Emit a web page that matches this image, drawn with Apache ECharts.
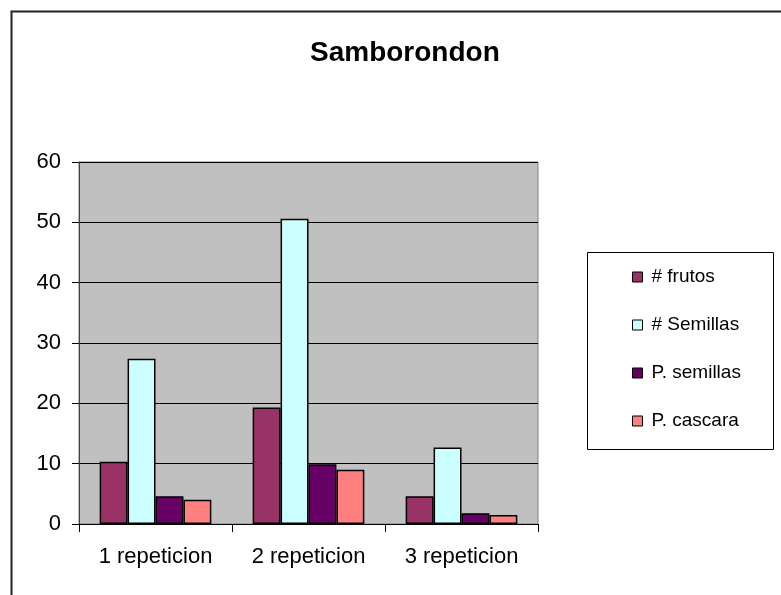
<!DOCTYPE html>
<html lang="es">
<head>
    <meta charset="UTF-8">
    <title>Samborondon</title>
    <script src="https://cdn.jsdelivr.net/npm/echarts@6/dist/echarts.min.js"></script>
    <style>
        html, body { margin: 0; padding: 0; background: #fff; }
        #chart { width: 781px; height: 595px; }
    </style>
</head>
<body>
    <div id="chart"></div>
    <script>
        // datos
        var categorias = ['1 repeticion', '2 repeticion', '3 repeticion'];
        var frutos = [10.3, 19.3, 4.6];
        var semillas = [27.4, 50.6, 12.7];
        var pSemillas = [4.6, 9.9, 1.8];
        var pCascara = [4.0, 9.0, 1.5];
        var nombres = ['# frutos', '# Semillas', 'P. semillas', 'P. cascara'];
        var colores = ['#993366', '#ccffff', '#660066', '#ff8080'];

        var chart = echarts.init(document.getElementById('chart'));
        var fuente = 'Liberation Sans, Arial, sans-serif';

        function serie(i, datos) {
            return {
                name: nombres[i],
                type: 'bar',
                data: datos,
                barGap: '0%',
                barCategoryGap: '27%',
                itemStyle: { color: colores[i], borderColor: '#000', borderWidth: 1.5 },
                emphasis: { disabled: true }
            };
        }

        var option = {
            animation: false,
            color: colores,
            title: {
                text: 'Samborondon',
                left: 305,
                top: 34,
                textStyle: { fontFamily: fuente, fontSize: 28, fontWeight: 'bold', color: '#000' }
            },
            graphic: [
                { type: 'rect', shape: { x: 11.5, y: 11.5, width: 900, height: 700 },
                  style: { fill: 'none', stroke: '#222', lineWidth: 2 }, silent: true },
                { type: 'rect', shape: { x: 587.5, y: 252.5, width: 186, height: 197 },
                  style: { fill: '#fff', stroke: '#000', lineWidth: 1 }, silent: true, z: -1 }
            ],
            legend: {
                orient: 'vertical',
                left: 632,
                top: 267,
                padding: 0,
                itemWidth: 10,
                itemHeight: 10,
                itemGap: 28,
                icon: 'rect',
                itemStyle: { borderColor: '#000', borderWidth: 1 },
                textStyle: { fontFamily: fuente, fontSize: 19, color: '#000', lineHeight: 20, padding: [0, 0, 0, 4] },
                data: nombres
            },
            grid: {
                left: 79,
                right: 243,
                top: 162,
                bottom: 71,
                show: true,
                backgroundColor: '#c0c0c0',
                borderColor: '#808080',
                borderWidth: 1
            },
            xAxis: {
                type: 'category',
                data: categorias,
                axisLine: { lineStyle: { color: '#000', width: 1 } },
                axisTick: { show: true, length: 8, lineStyle: { color: '#000' } },
                axisLabel: { fontFamily: fuente, fontSize: 22, color: '#000', margin: 22 }
            },
            yAxis: {
                type: 'value',
                min: 0,
                max: 60,
                interval: 10,
                axisLine: { show: true, lineStyle: { color: '#404040', width: 1 } },
                axisTick: { show: true, length: 7, lineStyle: { color: '#000' } },
                axisLabel: { fontFamily: fuente, fontSize: 22, color: '#000', margin: 18 },
                splitLine: { lineStyle: { color: '#000', width: 1 } }
            },
            series: [
                serie(0, frutos),
                serie(1, semillas),
                serie(2, pSemillas),
                serie(3, pCascara)
            ]
        };

        chart.setOption(option);
    </script>
</body>
</html>
